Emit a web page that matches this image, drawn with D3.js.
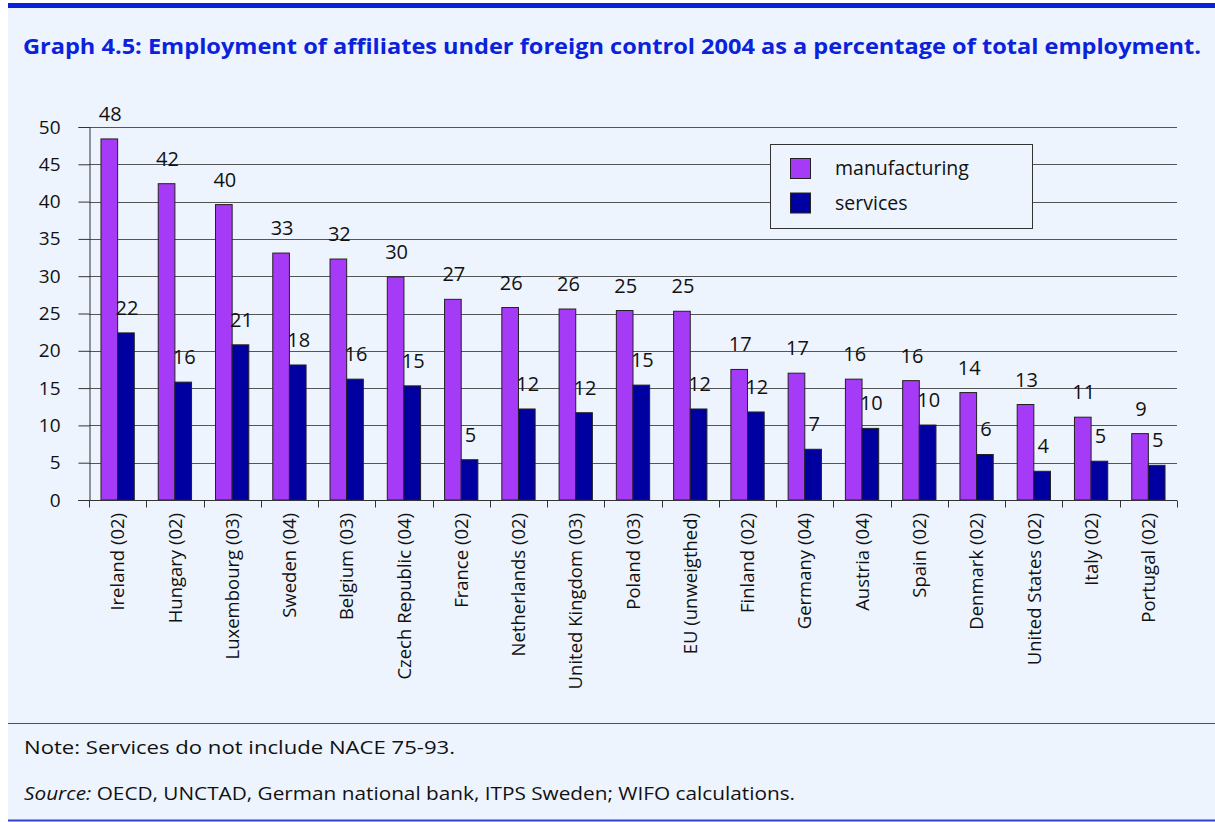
<!DOCTYPE html>
<html><head><meta charset="utf-8">
<script src="https://cdn.jsdelivr.net/npm/d3@7"></script>
<style>
html,body{margin:0;padding:0;background:#fff;}
svg{display:block;}
text{font-family:"Open Sans",sans-serif;}
</style></head>
<body>
<svg id="chart" width="1215" height="822"></svg>
<script>
const categories = ["Ireland (02)","Hungary (02)","Luxembourg (03)","Sweden (04)","Belgium (03)","Czech Republic (04)","France (02)","Netherlands (02)","United Kingdom (03)","Poland (03)","EU (unweigthed)","Finland (02)","Germany (04)","Austria (04)","Spain (02)","Denmark (02)","United States (02)","Italy (02)","Portugal (02)"];
const manufacturing = [48.4,42.4,39.6,33.1,32.3,29.9,26.9,25.8,25.6,25.4,25.3,17.5,17.0,16.2,16.0,14.4,12.8,11.1,8.9];
const services = [22.4,15.8,20.8,18.1,16.2,15.3,5.4,12.2,11.7,15.4,12.2,11.8,6.8,9.6,10.05,6.1,3.85,5.2,4.65];
const manufacturingLabels = ["48","42","40","33","32","30","27","26","26","25","25","17","17","16","16","14","13","11","9"];
const servicesLabels = ["22","16","21","18","16","15","5","12","12","15","12","12","7","10","10","6","4","5","5"];
const seriesNames = ["manufacturing","services"];
const yTicks = [0,5,10,15,20,25,30,35,40,45,50];
const titleText = "Graph 4.5: Employment of affiliates under foreign control 2004 as a percentage of total employment.";
const noteText = "Note: Services do not include NACE 75-93.";
const sourceLabel = "Source:";
const sourceText = " OECD, UNCTAD, German national bank, ITPS Sweden; WIFO calculations.";

const colors = {manufacturing:"#a53bf6", services:"#0000a0"};
const bg = "#edf4fe";
const svg = d3.select("#chart");

// background panel
svg.append("rect").attr("x",8).attr("y",3).attr("width",1207).attr("height",819).attr("fill",bg);
svg.append("rect").attr("x",8).attr("y",3).attr("width",1207).attr("height",5).attr("fill","#0a22dc");

// title
svg.append("text").attr("x",23).attr("y",54).attr("fill","#0a22dc")
  .attr("font-weight","bold").attr("font-size",22)
  .attr("textLength",1178).attr("lengthAdjust","spacingAndGlyphs")
  .text(titleText);

const x = d3.scaleBand().domain(categories).range([89,1177]).paddingInner(0).paddingOuter(0);
const x1 = d3.scaleBand().domain(seriesNames).range([0,x.bandwidth()]).paddingInner(0).paddingOuter(0.72);
const y = d3.scaleLinear().domain([0,50]).range([500,127]);

// gridlines
svg.append("g").selectAll("line").data(yTicks.filter(d=>d>0)).join("line")
  .attr("x1",89).attr("x2",1177).attr("y1",d=>Math.round(y(d))+0.5).attr("y2",d=>Math.round(y(d))+0.5)
  .attr("stroke","#555").attr("stroke-width",1);

// y axis
const yAxis = svg.append("g").attr("transform","translate(89.5,0)")
  .call(d3.axisLeft(y).tickValues(yTicks).tickSize(11).tickPadding(18).tickFormat(d3.format("d")));
yAxis.select(".domain").attr("stroke","#333");
yAxis.selectAll(".tick line").attr("stroke","#333");
yAxis.selectAll(".tick text").attr("font-size",19).attr("fill","#111").attr("font-family","'Open Sans',sans-serif");

// bars
const data = categories.map((c,i)=>({c, manufacturing:manufacturing[i], services:services[i], ml:manufacturingLabels[i], sl:servicesLabels[i]}));
const groups = svg.append("g").selectAll("g").data(data).join("g").attr("transform",d=>`translate(${x(d.c)},0)`);
seriesNames.forEach(s=>{
  groups.append("rect")
    .attr("x",x1(s)).attr("width",x1.bandwidth())
    .attr("y",d=>y(d[s])).attr("height",d=>y(0)-y(d[s]))
    .attr("fill",colors[s]).attr("stroke","#222").attr("stroke-width",1);
  groups.append("text")
    .attr("x",x1(s)+x1.bandwidth()/2+1).attr("y",d=>y(d[s])-18)
    .attr("text-anchor","middle").attr("font-size",20).attr("fill","#111")
    .text(d=> s==="manufacturing"? d.ml : d.sl);
});

// x axis
const xAxis = svg.append("g").attr("transform","translate(0,500.5)");
xAxis.append("line").attr("x1",78).attr("x2",1177).attr("stroke","#333");
const bounds = categories.map(c=>x(c)).concat([x.range()[1]]);
xAxis.selectAll("line.tk").data(bounds).join("line").attr("class","tk")
  .attr("x1",d=>Math.round(d)+0.5).attr("x2",d=>Math.round(d)+0.5).attr("y1",0).attr("y2",7).attr("stroke","#333");
const xl = svg.append("g").attr("transform","translate(0,500)")
  .call(d3.axisBottom(x).tickSize(0).tickPadding(0));
xl.select(".domain").remove();
xl.selectAll(".tick text")
  .attr("font-size",18.5).attr("fill","#111").attr("font-family","'Open Sans',sans-serif")
  .attr("transform","rotate(-90)").attr("text-anchor","end")
  .attr("x",-13).attr("y",0).attr("dy","0.36em");

// legend
const lg = svg.append("g");
lg.append("rect").attr("x",770.5).attr("y",144.5).attr("width",262).attr("height",84)
  .attr("fill",bg).attr("stroke","#333").attr("stroke-width",1);
seriesNames.forEach((s,i)=>{
  lg.append("rect").attr("x",790.5).attr("y",158.5+i*34.5).attr("width",20).attr("height",20)
    .attr("fill",colors[s]).attr("stroke","#222");
  lg.append("text").attr("x",835).attr("y",175+i*35).attr("font-size",19.5).attr("fill","#111").text(s);
});

// footer
svg.append("line").attr("x1",8).attr("x2",1215).attr("y1",723.5).attr("y2",723.5).attr("stroke","#3346d0").attr("stroke-width",1);
svg.append("line").attr("x1",8).attr("x2",1215).attr("y1",820.5).attr("y2",820.5).attr("stroke","#3346d0").attr("stroke-width",2);
svg.append("text").attr("x",24).attr("y",754).attr("font-size",18.5).attr("fill","#111")
  .attr("textLength",431).attr("lengthAdjust","spacingAndGlyphs").text(noteText);
const st = svg.append("text").attr("x",24).attr("y",800).attr("font-size",18.5).attr("fill","#111")
  .attr("textLength",771).attr("lengthAdjust","spacingAndGlyphs");
st.append("tspan").attr("font-style","italic").text(sourceLabel);
st.append("tspan").text(sourceText);
</script>
</body></html>
